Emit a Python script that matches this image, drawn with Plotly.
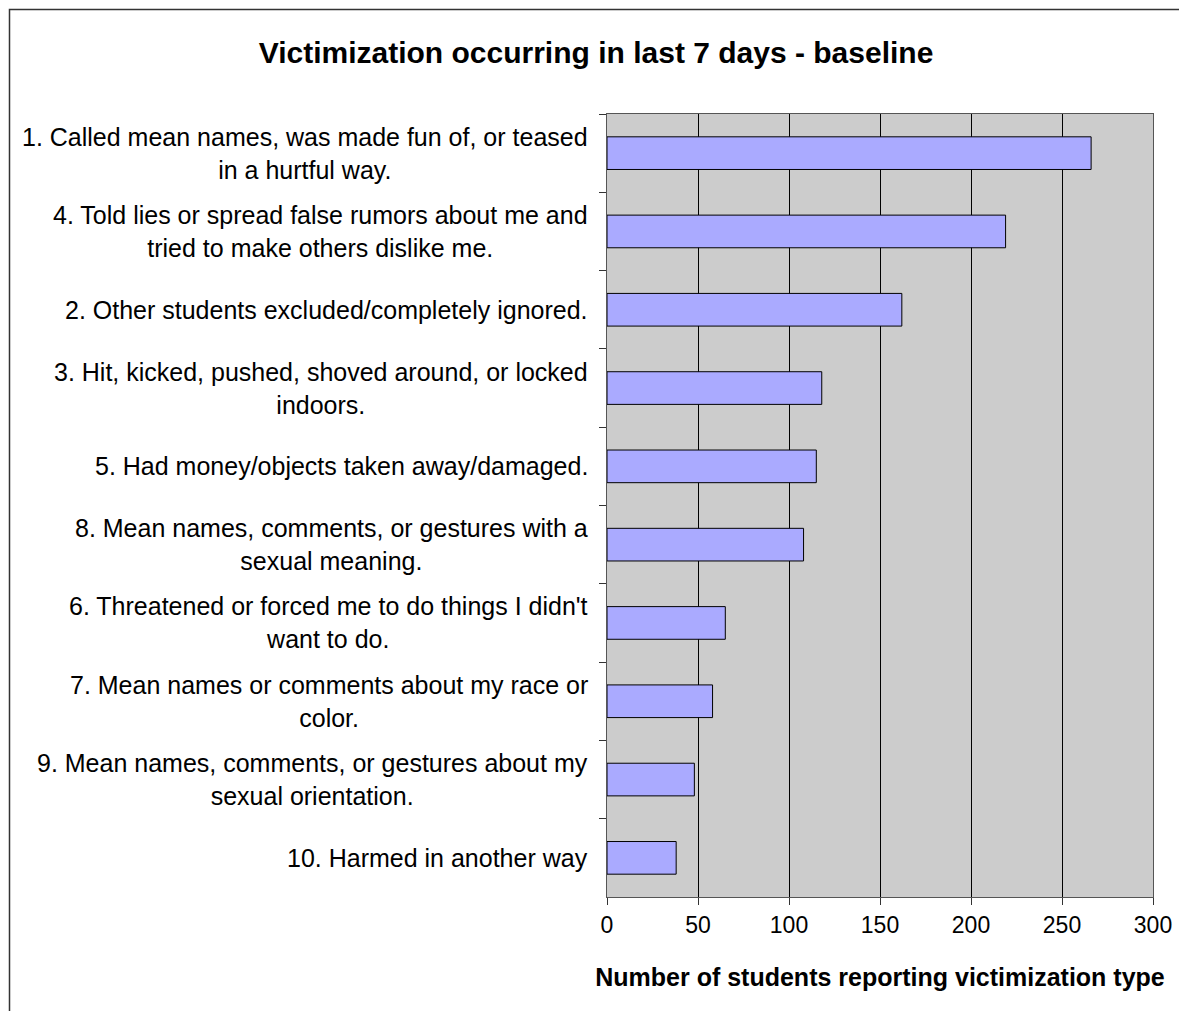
import plotly.graph_objects as go

categories = [
    "1. Called mean names, was made fun of, or teased<br>in a hurtful way.",
    "4. Told lies or spread false rumors about me and<br>tried to make others dislike me.",
    "2. Other students excluded/completely ignored.",
    "3. Hit, kicked, pushed, shoved around, or locked<br>indoors.",
    "5. Had money/objects taken away/damaged.",
    "8. Mean names, comments, or gestures with a<br>sexual meaning.",
    "6. Threatened or forced me to do things I didn't<br>want to do.",
    "7. Mean names or comments about my race or<br>color.",
    "9. Mean names, comments, or gestures about my<br>sexual orientation.",
    "10. Harmed in another way",
]
counts = [266, 219, 162, 118, 115, 108, 65, 58, 48, 38]
x_ticks = [0, 50, 100, 150, 200, 250, 300]

FONT = "Arial, Liberation Sans, sans-serif"
# page has an 8px body margin, so the figure is a bit smaller than the window
W, H = 1179, 1003
L, R, T, B = 599, 34, 106, 114

fig = go.Figure(
    go.Bar(
        x=counts,
        y=categories,
        orientation="h",
        marker=dict(color="#aaaaff", line=dict(color="#000000", width=1)),
        hoverinfo="x+y",
    )
)

# category labels, centred lines like the original
for cat in categories:
    fig.add_annotation(
        x=-17 / (W - L - R), xref="paper", y=cat, yref="y",
        text=cat, showarrow=False, xanchor="right", yanchor="middle",
        align="center", font=dict(family=FONT, size=25, color="#000000"),
    )

# outer chart frame (left and top edges visible, like the cropped original)
pw, ph = W - L - R, H - T - B
fig.add_shape(
    type="rect", xref="paper", yref="paper",
    x0=(1.5 - L) / pw, x1=(W + 20 - L) / pw,
    y0=(H - B - H - 20) / ph, y1=(H - B - 1.5) / ph,
    line=dict(color="#333333", width=1.5), layer="below",
)

fig.update_layout(
    width=W, height=H,
    margin=dict(l=L, r=R, t=T, b=B),
    paper_bgcolor="white",
    plot_bgcolor="#cccccc",
    bargap=0.583,
    showlegend=False,
    font=dict(family=FONT, color="#000000"),
    title=dict(
        text="<b>Victimization occurring in last 7 days - baseline</b>",
        x=588 / W, xanchor="center", y=1 - 44 / H, yanchor="middle",
        xref="container", yref="container",
        font=dict(family=FONT, size=30, color="#000000"),
    ),
    xaxis=dict(
        range=[0, 300], tickvals=x_ticks, ticktext=[str(v) for v in x_ticks],
        showgrid=True, gridcolor="#000000", gridwidth=1,
        ticks="outside", ticklen=7, tickcolor="#333333",
        tickfont=dict(family=FONT, size=23, color="#000000"),
        showline=True, linecolor="#555555", linewidth=1, mirror=True,
        zeroline=False,
        title=dict(
            text="<b>Number of students reporting victimization type</b>",
            font=dict(family=FONT, size=25, color="#000000"),
            standoff=31,
        ),
    ),
    yaxis=dict(
        autorange="reversed", showticklabels=False,
        ticks="outside", ticklen=7, tickcolor="#333333", tickson="boundaries",
        showgrid=False, showline=True, linecolor="#555555", linewidth=1,
        mirror=True,
    ),
)

fig.write_html("out.html")
